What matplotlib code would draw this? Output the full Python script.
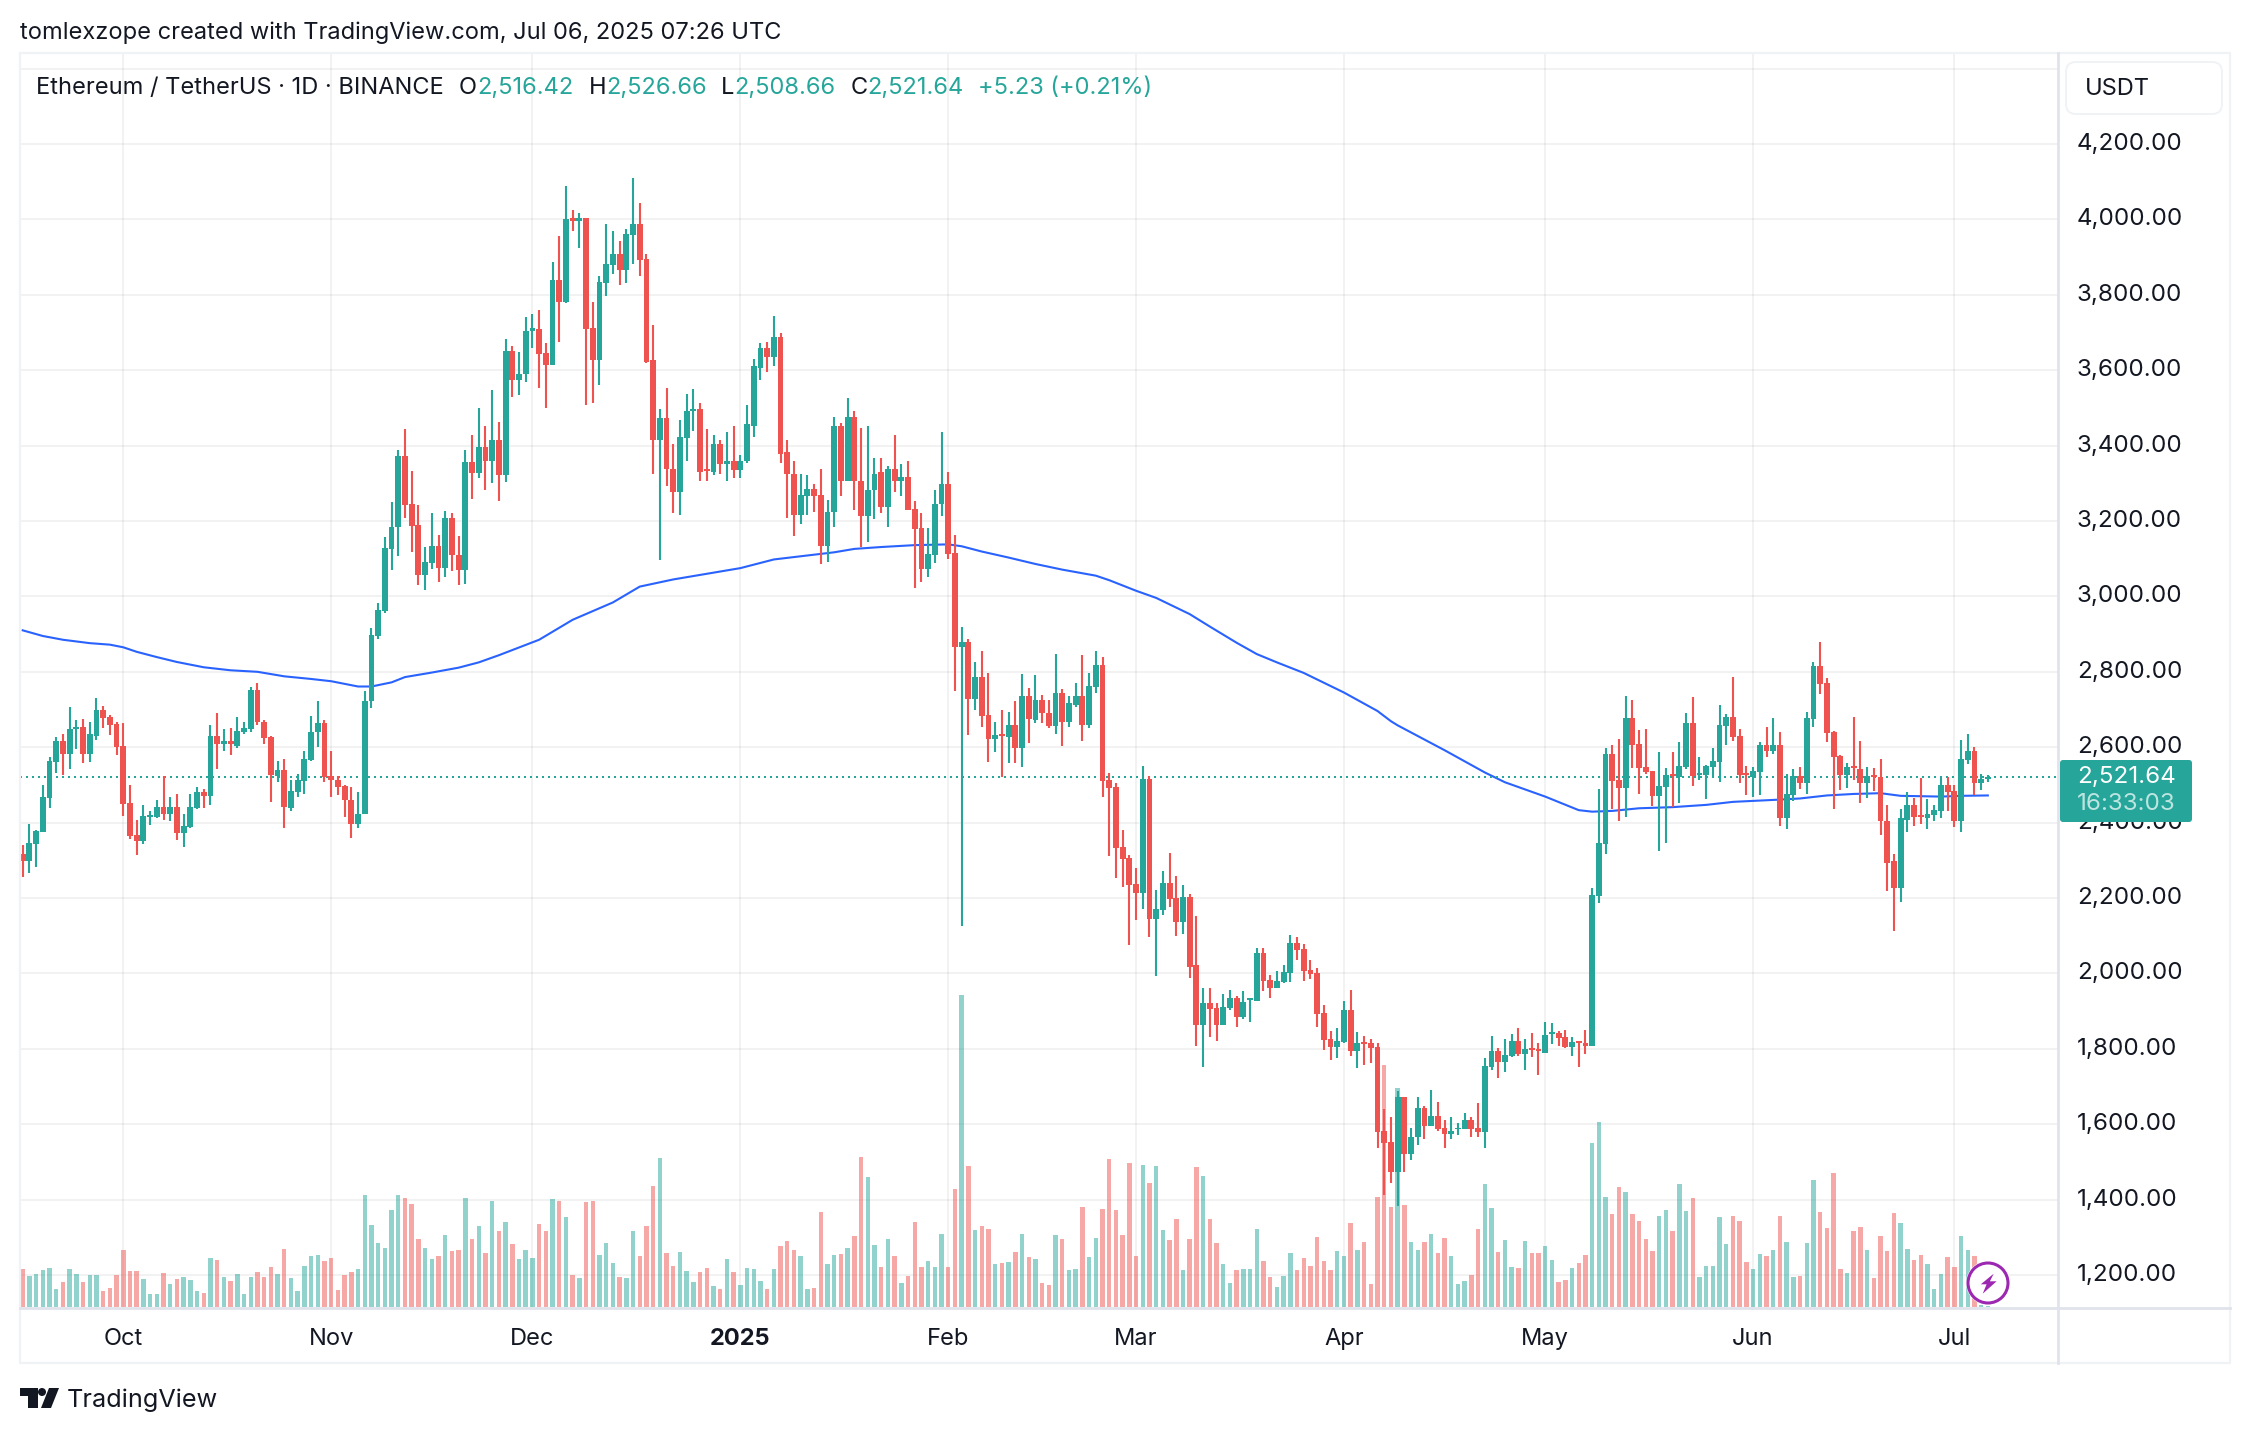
import numpy as np
import pandas as pd
import matplotlib
matplotlib.use('Agg')
import matplotlib.pyplot as plt
from matplotlib.patches import FancyBboxPatch, Circle, Polygon

plt.rcParams['font.family'] = ['Inter', 'DejaVu Sans']

# daily ETH/USDT candles
opens = [
    2318, 2299, 2344, 2376, 2466, 2562, 2616, 2581, 2648, 2654,
    2581, 2631, 2698, 2679, 2661, 2604, 2451, 2367, 2350, 2414,
    2414, 2442, 2422, 2442, 2373, 2387, 2440, 2480, 2471, 2631,
    2609, 2616, 2604, 2641, 2648, 2751, 2668, 2626, 2523, 2539,
    2440, 2482, 2511, 2567, 2639, 2663, 2523, 2514, 2496, 2461,
    2397, 2422, 2722, 2895, 2962, 3126, 3183, 3373, 3246, 3189,
    3057, 3089, 3134, 3076, 3209, 3110, 3069, 3356, 3328, 3396,
    3359, 3415, 3321, 3652, 3575, 3589, 3705, 3708, 3645, 3613,
    3838, 3782, 4003, 3995, 4005, 3711, 3626, 3830, 3878, 3907,
    3867, 3958, 3987, 3894, 3626, 3414, 3472, 3339, 3278, 3419,
    3493, 3496, 3337, 3331, 3403, 3352, 3360, 3334, 3358, 3453,
    3607, 3658, 3634, 3687, 3382, 3326, 3217, 3265, 3284, 3268,
    3135, 3223, 3451, 3305, 3475, 3307, 3212, 3281, 3329, 3238,
    3339, 3307, 3318, 3232, 3182, 3074, 3111, 3244, 3299, 3116,
    2867, 2879, 2729, 2787, 2686, 2621, 2636, 2627, 2660, 2599,
    2736, 2673, 2726, 2692, 2657, 2745, 2667, 2713, 2736, 2660,
    2760, 2819, 2513, 2495, 2336, 2307, 2238, 2214, 2516, 2145,
    2169, 2240, 2201, 2137, 2203, 2021, 1862, 1922, 1909, 1862,
    1909, 1935, 1885, 1929, 1928, 2055, 1983, 1962, 1978, 2002,
    2081, 2066, 2010, 2002, 1896, 1827, 1806, 1819, 1904, 1793,
    1819, 1816, 1805, 1581, 1554, 1472, 1671, 1520, 1565, 1644,
    1594, 1623, 1589, 1575, 1586, 1586, 1612, 1589, 1578, 1752,
    1795, 1766, 1782, 1822, 1787, 1803, 1800, 1790, 1840, 1843,
    1832, 1805, 1820, 1815, 1807, 2205, 2342, 2582, 2514, 2493,
    2678, 2609, 2548, 2537, 2471, 2495, 2530, 2520, 2548, 2664,
    2527, 2527, 2548, 2561, 2656, 2680, 2630, 2532, 2522, 2535,
    2606, 2590, 2606, 2411, 2474, 2524, 2506, 2675, 2815, 2770,
    2640, 2577, 2527, 2551, 2543, 2506, 2527, 2522, 2405, 2297,
    2226, 2408, 2448, 2421, 2413, 2421, 2432, 2500, 2485, 2403,
    2567, 2590, 2506, 2516.42,
]
highs = [
    2340, 2395, 2380, 2499, 2575, 2626, 2636, 2706, 2673, 2676,
    2668, 2731, 2708, 2686, 2666, 2663, 2501, 2406, 2446, 2432,
    2461, 2523, 2469, 2477, 2424, 2475, 2494, 2488, 2658, 2691,
    2649, 2652, 2679, 2666, 2761, 2771, 2673, 2630, 2564, 2570,
    2512, 2530, 2591, 2684, 2723, 2671, 2589, 2523, 2499, 2494,
    2482, 2748, 2917, 2983, 3157, 3251, 3388, 3443, 3333, 3243,
    3132, 3221, 3164, 3227, 3221, 3161, 3388, 3428, 3500, 3452,
    3547, 3463, 3684, 3663, 3647, 3740, 3748, 3761, 3671, 3886,
    3955, 4088, 4024, 4016, 4005, 3780, 3849, 3987, 3968, 3944,
    3974, 4109, 4043, 3907, 3719, 3498, 3554, 3403, 3467, 3538,
    3549, 3514, 3443, 3429, 3414, 3437, 3451, 3374, 3509, 3631,
    3671, 3676, 3745, 3700, 3416, 3358, 3324, 3321, 3299, 3339,
    3257, 3475, 3461, 3525, 3493, 3448, 3453, 3368, 3366, 3347,
    3427, 3350, 3360, 3253, 3222, 3182, 3282, 3436, 3330, 3163,
    2919, 2887, 2826, 2856, 2798, 2667, 2699, 2694, 2723, 2795,
    2758, 2792, 2739, 2726, 2848, 2754, 2736, 2771, 2845, 2798,
    2856, 2840, 2532, 2505, 2381, 2315, 2280, 2550, 2524, 2222,
    2272, 2320, 2259, 2235, 2211, 2153, 1962, 1960, 1922, 1946,
    1957, 1941, 1952, 1935, 2068, 2068, 1997, 2007, 2021, 2103,
    2097, 2079, 2036, 2015, 1915, 1848, 1854, 1928, 1957, 1845,
    1835, 1827, 1816, 1639, 1618, 1689, 1671, 1591, 1671, 1649,
    1692, 1660, 1612, 1618, 1602, 1631, 1618, 1657, 1776, 1835,
    1803, 1827, 1840, 1856, 1827, 1843, 1816, 1872, 1869, 1848,
    1850, 1832, 1821, 1850, 2226, 2490, 2598, 2606, 2622, 2736,
    2725, 2646, 2648, 2537, 2588, 2545, 2588, 2614, 2691, 2733,
    2574, 2553, 2598, 2712, 2688, 2786, 2648, 2551, 2548, 2614,
    2654, 2678, 2641, 2530, 2543, 2548, 2693, 2826, 2878, 2783,
    2643, 2580, 2559, 2680, 2617, 2548, 2545, 2569, 2448, 2316,
    2437, 2482, 2466, 2519, 2463, 2448, 2524, 2521, 2500, 2619,
    2635, 2601, 2530, 2526.66,
]
lows = [
    2257, 2267, 2283, 2376, 2440, 2532, 2525, 2543, 2594, 2558,
    2562, 2620, 2652, 2632, 2578, 2417, 2356, 2313, 2342, 2394,
    2411, 2406, 2404, 2355, 2336, 2385, 2437, 2440, 2446, 2541,
    2591, 2578, 2599, 2635, 2640, 2658, 2609, 2454, 2509, 2385,
    2432, 2467, 2475, 2564, 2601, 2507, 2469, 2472, 2414, 2360,
    2385, 2422, 2703, 2888, 2957, 3070, 3107, 3208, 3119, 3030,
    3017, 3073, 3037, 3052, 3067, 3030, 3034, 3259, 3314, 3282,
    3301, 3253, 3303, 3530, 3533, 3568, 3660, 3554, 3501, 3613,
    3676, 3777, 3968, 3923, 3509, 3514, 3562, 3796, 3854, 3825,
    3830, 3883, 3849, 3618, 3326, 3097, 3294, 3220, 3217, 3358,
    3440, 3305, 3307, 3321, 3326, 3305, 3315, 3313, 3355, 3424,
    3573, 3594, 3610, 3355, 3209, 3159, 3193, 3217, 3225, 3085,
    3090, 3185, 3265, 3305, 3228, 3130, 3143, 3204, 3222, 3185,
    3276, 3267, 3230, 3021, 3038, 3052, 3089, 3213, 3100, 2750,
    2125, 2633, 2699, 2654, 2561, 2588, 2522, 2559, 2559, 2547,
    2612, 2665, 2663, 2652, 2636, 2604, 2654, 2707, 2617, 2652,
    2745, 2469, 2312, 2254, 2230, 2076, 2142, 2172, 2097, 1994,
    2156, 2177, 2100, 2105, 1989, 1808, 1753, 1830, 1822, 1862,
    1904, 1859, 1880, 1872, 1928, 1952, 1935, 1962, 1975, 1978,
    2036, 1981, 1986, 1859, 1798, 1769, 1776, 1816, 1782, 1750,
    1758, 1763, 1538, 1411, 1443, 1384, 1472, 1504, 1546, 1562,
    1594, 1583, 1538, 1562, 1572, 1586, 1565, 1565, 1538, 1744,
    1723, 1739, 1779, 1782, 1745, 1779, 1731, 1790, 1813, 1808,
    1803, 1782, 1751, 1786, 1807, 2186, 2318, 2435, 2405, 2416,
    2545, 2477, 2530, 2445, 2324, 2347, 2442, 2453, 2543, 2498,
    2514, 2463, 2519, 2508, 2606, 2617, 2506, 2474, 2469, 2474,
    2574, 2582, 2392, 2382, 2456, 2490, 2477, 2654, 2741, 2614,
    2437, 2487, 2493, 2514, 2453, 2466, 2485, 2368, 2218, 2112,
    2189, 2376, 2390, 2395, 2382, 2405, 2411, 2432, 2387, 2374,
    2556, 2474, 2487, 2508.66,
]
closes = [
    2299, 2345, 2378, 2467, 2564, 2616, 2581, 2649, 2654, 2581,
    2634, 2698, 2677, 2658, 2601, 2450, 2365, 2350, 2417, 2420,
    2442, 2422, 2442, 2373, 2390, 2442, 2480, 2471, 2631, 2608,
    2616, 2609, 2644, 2650, 2752, 2666, 2625, 2525, 2539, 2441,
    2485, 2512, 2570, 2641, 2663, 2521, 2513, 2494, 2460, 2397,
    2424, 2723, 2898, 2964, 3129, 3184, 3373, 3243, 3188, 3058,
    3092, 3134, 3076, 3209, 3109, 3069, 3356, 3328, 3396, 3359,
    3415, 3323, 3652, 3575, 3591, 3703, 3711, 3642, 3613, 3838,
    3782, 4000, 3997, 4005, 3708, 3626, 3833, 3881, 3907, 3867,
    3960, 3987, 3891, 3623, 3414, 3472, 3337, 3278, 3422, 3493,
    3498, 3331, 3332, 3403, 3352, 3360, 3334, 3360, 3456, 3610,
    3658, 3634, 3687, 3379, 3324, 3217, 3268, 3284, 3265, 3135,
    3225, 3451, 3305, 3475, 3305, 3212, 3283, 3326, 3238, 3339,
    3307, 3318, 3230, 3180, 3074, 3113, 3246, 3299, 3113, 2867,
    2879, 2729, 2787, 2683, 2621, 2633, 2630, 2660, 2599, 2736,
    2674, 2726, 2690, 2657, 2745, 2667, 2716, 2736, 2660, 2763,
    2819, 2511, 2492, 2333, 2304, 2235, 2214, 2516, 2145, 2172,
    2240, 2198, 2137, 2203, 2018, 1862, 1922, 1906, 1862, 1912,
    1935, 1885, 1925, 1934, 2055, 1981, 1962, 1981, 2005, 2081,
    2063, 2007, 1999, 1893, 1824, 1806, 1822, 1904, 1793, 1816,
    1814, 1803, 1578, 1551, 1472, 1671, 1520, 1567, 1644, 1594,
    1623, 1586, 1575, 1583, 1591, 1612, 1586, 1578, 1755, 1795,
    1766, 1784, 1822, 1787, 1800, 1798, 1795, 1837, 1845, 1829,
    1805, 1819, 1815, 1808, 2207, 2345, 2582, 2511, 2493, 2678,
    2606, 2545, 2535, 2471, 2498, 2527, 2524, 2551, 2664, 2524,
    2532, 2551, 2564, 2659, 2680, 2627, 2527, 2527, 2537, 2606,
    2590, 2606, 2411, 2477, 2524, 2506, 2678, 2815, 2767, 2638,
    2574, 2527, 2548, 2545, 2506, 2524, 2522, 2403, 2294, 2226,
    2411, 2448, 2416, 2416, 2424, 2434, 2500, 2482, 2403, 2569,
    2590, 2506, 2516, 2521.64,
]
# volume has no scale on the chart, so these are relative units
volumes = [
    114, 93, 99, 111, 117, 54, 75, 114, 99, 75,
    96, 96, 48, 57, 96, 171, 108, 108, 84, 39,
    39, 102, 69, 84, 90, 81, 48, 42, 147, 141,
    90, 78, 99, 39, 90, 105, 90, 120, 99, 174,
    87, 48, 123, 153, 156, 138, 147, 51, 96, 105,
    114, 336, 246, 192, 177, 291, 336, 327, 309, 204,
    177, 144, 153, 216, 168, 171, 327, 204, 243, 162,
    318, 228, 255, 189, 144, 171, 147, 249, 228, 324,
    318, 270, 96, 87, 315, 318, 156, 192, 132, 90,
    87, 228, 153, 243, 363, 447, 162, 123, 165, 108,
    75, 105, 117, 63, 54, 144, 105, 66, 117, 114,
    78, 54, 114, 183, 198, 171, 153, 54, 57, 285,
    129, 156, 159, 177, 213, 450, 390, 186, 120, 204,
    153, 72, 93, 255, 120, 138, 120, 219, 120, 354,
    936, 423, 231, 243, 234, 129, 132, 135, 165, 219,
    150, 144, 72, 66, 216, 204, 111, 114, 300, 150,
    207, 294, 444, 291, 216, 432, 153, 426, 372, 423,
    231, 201, 264, 111, 204, 420, 393, 264, 192, 129,
    72, 111, 114, 114, 234, 138, 90, 60, 93, 162,
    111, 147, 123, 210, 138, 111, 168, 153, 252, 171,
    195, 69, 330, 726, 300, 657, 306, 195, 171, 195,
    219, 162, 207, 153, 69, 78, 96, 234, 369, 297,
    165, 201, 120, 117, 198, 162, 162, 183, 141, 75,
    81, 117, 132, 156, 492, 555, 330, 279, 360, 345,
    279, 258, 204, 168, 273, 291, 228, 369, 288, 327,
    90, 123, 123, 270, 189, 273, 258, 135, 114, 159,
    153, 171, 273, 195, 90, 93, 192, 381, 285, 237,
    402, 114, 102, 228, 240, 171, 87, 213, 168, 282,
    252, 174, 141, 156, 129, 54, 99, 150, 120, 213,
    171, 153, 6, 3,
]
# moving average, read at these candle numbers
ma_days = [0, 3, 6, 10, 13, 15, 17, 20, 23, 27, 31, 35, 39, 43, 46, 50, 52, 55, 57,
           61, 65, 68, 71, 77, 82, 88, 92, 97, 107, 112, 121, 124, 128, 133, 138,
           140, 143, 147, 151, 155, 160, 162, 166, 169, 174, 177, 181, 184, 187,
           191, 197, 202, 204, 205, 212, 218, 221, 227, 232, 234, 237, 241, 246,
           251, 255, 262, 265, 269, 273, 277, 280, 286, 289, 293]
ma_values = [2910, 2895, 2885, 2876, 2872, 2865, 2853, 2839, 2826, 2812, 2804, 2800,
             2788, 2781, 2775, 2761, 2761, 2772, 2786, 2798, 2811, 2825, 2844, 2885,
             2938, 2984, 3026, 3045, 3075, 3098, 3117, 3126, 3131, 3136, 3138, 3133,
             3119, 3103, 3086, 3071, 3055, 3043, 3015, 2996, 2953, 2920, 2877, 2847,
             2825, 2797, 2745, 2696, 2669, 2658, 2592, 2533, 2507, 2469, 2433, 2429,
             2431, 2438, 2441, 2447, 2455, 2461, 2464, 2472, 2476, 2478, 2471, 2469,
             2471, 2472]
price_ticks = [1200, 1400, 1600, 1800, 2000, 2200, 2400, 2600, 2800, 3000, 3200,
               3400, 3600, 3800, 4000, 4200, 4400]
last_price = 2521.64

UP = '#26a69a'
DOWN = '#ef5350'
INK = '#131722'
FRAME = '#f0f3f5'
AXIS_LINE = '#e0e3eb'
W, H = 2250, 1434
PANE_L, PANE_R, PANE_T, PANE_B = 20, 2058, 53, 1307

o, h, l, c = map(np.array, (opens, highs, lows, closes))
x = np.arange(len(o))
colors = np.where(c >= o, UP, DOWN)
dates = pd.date_range('2024-09-16', periods=len(o))

fig = plt.figure(figsize=(W / 100, H / 100), dpi=100, facecolor='white')
ax = fig.add_axes([PANE_L / W, 1 - PANE_B / H, (PANE_R - PANE_L) / W, (PANE_B - PANE_T) / H])
ax.set_xlim(-0.40, 303.46)
ax.set_ylim(1115.1, 4441.4)
for s in ax.spines.values():
    s.set_visible(False)

ax.set_axisbelow(True)
ax.grid(True, color='#2a2e39', alpha=0.06, linewidth=1.44)

# volume sits on the pane floor, 3 units to a pixel
units_to_price = (4441.4 - 1115.1) / (PANE_B - PANE_T) / 3
ax.bar(x, np.array(volumes) * units_to_price, bottom=1115.1, width=0.66,
       color=colors, alpha=0.5, linewidth=0, zorder=1)

ax.plot(ma_days, ma_values, color='#2962ff', linewidth=1.5, zorder=2)
ax.axhline(last_price, color=UP, linewidth=1.44, linestyle=(0, (1, 2)), zorder=2)

ax.vlines(x, l, h, colors=colors, linewidth=1.5, capstyle='butt', zorder=3)
ax.bar(x, np.abs(c - o), bottom=np.minimum(o, c), width=0.87, color=colors, linewidth=0, zorder=4)

ax.yaxis.tick_right()
ax.set_yticks(price_ticks)
ax.set_yticklabels([f'{p:,.2f}' if p < 4400 else '' for p in price_ticks])
ax.tick_params(axis='y', length=0, pad=13.5, labelsize=17.4, labelcolor=INK)
for lab in ax.get_yticklabels():
    lab.set_verticalalignment('center')

month_ticks = np.where(dates.day == 1)[0]
month_labels = ['2025' if dates[i].month == 1 else dates[i].strftime('%b') for i in month_ticks]
ax.set_xticks(month_ticks)
ax.set_xticklabels(month_labels)
ax.tick_params(axis='x', length=0, pad=15, labelsize=17, labelcolor=INK)
for lab in ax.get_xticklabels():
    if lab.get_text() == '2025':
        lab.set_fontweight('bold')

# everything around the chart goes on a full size overlay in pixel coordinates
ov = fig.add_axes([0, 0, 1, 1], zorder=10)
ov.set_xlim(0, W)
ov.set_ylim(H, 0)
ov.axis('off')
ov.patch.set_alpha(0)

ov.plot([20, 2230, 2230, 20, 20], [53, 53, 1363, 1363, 53], color=FRAME, linewidth=1.6)
ov.plot([2058, 2058], [53, 1363], color=AXIS_LINE, linewidth=2)
ov.plot([20, 2230], [1308, 1308], color=AXIS_LINE, linewidth=2)

ov.text(20, 33, 'tomlexzope created with TradingView.com, Jul 06, 2025 07:26 UTC',
        fontsize=17, color=INK, va='center')

ov.text(36, 88, 'Ethereum / TetherUS · 1D · BINANCE', fontsize=17, color=INK, va='center')
for lx, letter, vx, val in [(459, 'O', 477, '2,516.42'), (589, 'H', 606, '2,526.66'),
                            (721, 'L', 734, '2,508.66'), (851, 'C', 867, '2,521.64')]:
    ov.text(lx, 88, letter, fontsize=17, color=INK, va='center')
    ov.text(vx, 88, val, fontsize=17, color=UP, va='center')
ov.text(978, 88, '+5.23 (+0.21%)', fontsize=17, color=UP, va='center')

ov.add_patch(FancyBboxPatch((2072, 68), 144, 40, boxstyle='round,pad=6,rounding_size=10',
                            facecolor='white', edgecolor=FRAME, linewidth=1.4))
ov.text(2085, 89, 'USDT', fontsize=17, color=INK, va='center')

# last price tag
ov.add_patch(FancyBboxPatch((2062, 762), 128, 58, boxstyle='round,pad=2,rounding_size=3',
                            facecolor=UP, edgecolor='none'))
ov.text(2077, 777, '2,521.64', fontsize=17.4, color='white', va='center')
ov.text(2077, 804, '16:33:03', fontsize=17.4, color='white', alpha=0.7, va='center')

# bolt badge
ov.add_patch(Circle((1988, 1283), 22, facecolor='white', edgecolor='none'))
ov.add_patch(Circle((1988, 1283), 20, facecolor='white', edgecolor='#9c27b0', linewidth=2.2))
bolt = np.array([(5.7, -9.3), (-7.2, 1.3), (-1.4, 1.3), (-5.3, 10.7), (8.6, -1.7), (1.9, -1.7)])
ov.add_patch(Polygon(bolt + (1988, 1283), closed=True, facecolor='#9c27b0', edgecolor='none'))

# TradingView logo
ov.add_patch(Polygon([(20, 1388), (38, 1388), (38, 1408), (28, 1408), (28, 1396), (20, 1396)],
                     closed=True, facecolor=INK, edgecolor='none'))
ov.add_patch(Circle((42, 1392), 4, facecolor=INK, edgecolor='none'))
ov.add_patch(Polygon([(49, 1388), (59, 1388), (51, 1408), (41, 1408)],
                     closed=True, facecolor=INK, edgecolor='none'))
ov.text(67, 1400, 'TradingView', fontsize=18.2, color=INK, va='center')

fig.savefig('out.png', dpi=100)
